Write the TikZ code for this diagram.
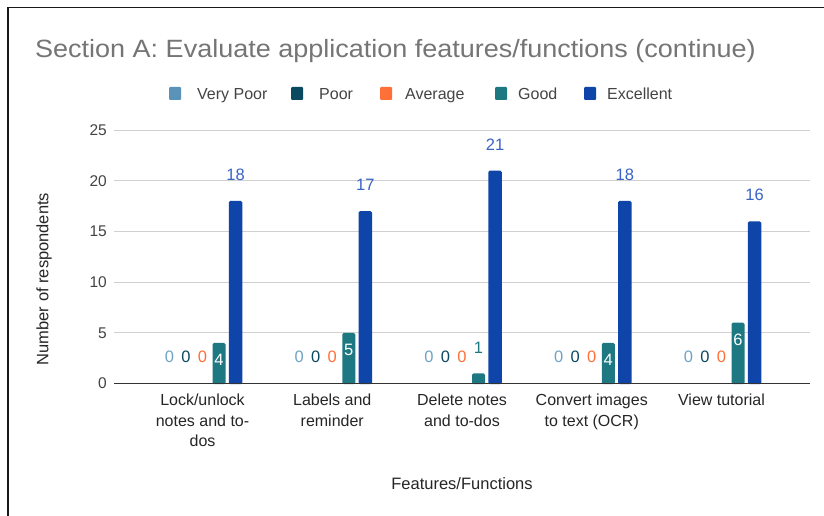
\documentclass[tikz,border=0pt]{standalone}
\usepackage{fontspec}
\setmainfont{Liberation Sans}
\newfontfamily\titlefont[FakeStretch=1.08]{Liberation Sans}
\definecolor{cvp}{HTML}{5A93B7}
\definecolor{cpr}{HTML}{0B4960}
\definecolor{cav}{HTML}{FF6F38}
\definecolor{cgd}{HTML}{1D7882}
\definecolor{cex}{HTML}{0F44A8}
\definecolor{cexl}{HTML}{3A63C6}
\definecolor{cvpl}{HTML}{6FA3C4}
\definecolor{ctitle}{HTML}{757575}
\definecolor{ctick}{HTML}{444444}
\definecolor{cgrid}{HTML}{D0D0D0}
\definecolor{caxis}{HTML}{333333}
\tikzset{
  framelin/.style={draw=black!90, line width=1.1pt},
  gridlin/.style={draw=cgrid, line width=0.9pt},
  axislin/.style={draw=caxis, line width=1.2pt},
  ticklab/.style={font=\fontsize{15.5}{17}\selectfont, text=ctick, inner sep=0pt},
  catlab/.style={font=\fontsize{16}{20.5}\selectfont, text=black!85, align=center, inner sep=0pt, anchor=north},
  datalab/.style={font=\fontsize{16.5}{18}\selectfont, inner sep=0pt},
  legtext/.style={font=\fontsize{16}{18}\selectfont, text=ctick, inner sep=0pt, anchor=base west},
  legsq/.style={rounded corners=1pt},
  axtitle/.style={font=\fontsize{16.5}{18}\selectfont, text=black!85, inner sep=0pt},
}
\begin{document}
\begin{tikzpicture}[x=1pt,y=-1pt]
\useasboundingbox (0,0) rectangle (824,516);
\fill[white] (0,0) rectangle (824,516);
\draw[framelin] (8,7.5) -- (824,7.5);
\draw[framelin] (8,7.5) -- (8,516);
% title
\node[anchor=west, inner sep=0pt, text=ctitle, font=\titlefont\fontsize{25}{28}\selectfont] (title) at (35,51) {Section A: Evaluate application features/functions (continue)};
% legend
\fill[cvp, legsq] (169,87) rectangle (181,100);
\node[legtext] (lvp) at (197,99.5) {Very Poor};
\fill[cpr, legsq] (291,87) rectangle (303,100);
\node[legtext] (lpr) at (319,99.5) {Poor};
\fill[cav, legsq] (380,87) rectangle (392,100);
\node[legtext] (lav) at (405,99.5) {Average};
\fill[cgd, legsq] (495,87) rectangle (507,100);
\node[legtext] (lgd) at (518,99.5) {Good};
\fill[cex, legsq] (584,87) rectangle (596,100);
\node[legtext] (lex) at (607,99.5) {Excellent};
% grid and y ticks
\foreach \v in {5,10,15,20,25}{
  \pgfmathsetmacro{\yy}{383.5-10.14*\v}
  \draw[gridlin] (114,\yy) -- (810,\yy);
}
\foreach \v in {0,5,10,15,20,25}{
  \pgfmathsetmacro{\yy}{383.5-10.14*\v}
  \node[ticklab, anchor=east] (yt\v) at (107,\yy) {\v};
}
% bars
\foreach \i/\g/\e in {0/4/18,1/5/17,2/1/21,3/4/18,4/6/16}{
  \pgfmathsetmacro{\cx}{202.5+129.75*\i}
  \pgfmathsetmacro{\gt}{383.5-10.14*\g}
  \pgfmathsetmacro{\et}{383.5-10.14*\e}
  \fill[cgd, rounded corners=1.5pt] (\cx+16.5-6.5,384) -- (\cx+16.5-6.5,\gt) -- (\cx+16.5+6.5,\gt) -- (\cx+16.5+6.5,384) -- cycle;
  \fill[cex, rounded corners=1.5pt] (\cx+33-6.75,384) -- (\cx+33-6.75,\et) -- (\cx+33+6.75,\et) -- (\cx+33+6.75,384) -- cycle;
  \node[datalab, text=cvpl] (zv\i) at (\cx-33,356.5) {0};
  \node[datalab, text=cpr] (zp\i) at (\cx-16.5,356.5) {0};
  \node[datalab, text=cav] (za\i) at (\cx,356.5) {0};
  \node[datalab, text=cexl] (ev\i) at (\cx+33,\et-26) {\e};
  \ifnum\g>1
    \node[datalab, text=white] (gv\i) at (\cx+16.5,\gt+17) {\g};
  \else
    \node[datalab, text=cgd] (gv\i) at (\cx+16.5,\gt-26) {\g};
  \fi
}
\draw[axislin] (114,383.5) -- (810,383.5);
% category labels
\node[catlab] (c0) at (202.5,394) {Lock/unlock\\notes and to-\\dos};
\node[catlab] (c1) at (332.25,394) {Labels and\\reminder};
\node[catlab] (c2) at (462,394) {Delete notes\\and to-dos};
\node[catlab] (c3) at (591.75,394) {Convert images\\to text (OCR)};
\node[catlab] (c4) at (721.5,394) {View tutorial};
% axis titles
\node[axtitle] (xtitle) at (462,483.5) {Features/Functions};
\node[axtitle, rotate=90] (ytitle) at (44,279) {Number of respondents};
\end{tikzpicture}
\end{document}
